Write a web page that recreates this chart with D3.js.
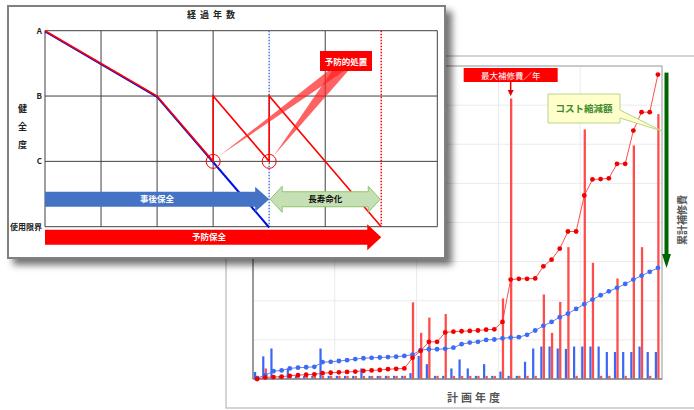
<!DOCTYPE html>
<html>
<head>
<meta charset="utf-8">
<script src="https://cdn.jsdelivr.net/npm/d3@7"></script>
<style>
body { margin:0; background:#fff; }
text { font-family: "Noto Sans CJK JP", "Noto Sans", sans-serif; }
</style>
</head>
<body>
<div id="vis"></div>
<script>
//global variables
let svgWidth = 694
let svgHeight = 410

// 計画年度 (50 years)
let years = d3.range(1, 51)

// yearly repair cost: 事後保全 (blue) / 予防保全 (red)
let blueBars = [18, 58, 78, 8, 27, 8, 8, 8, 78, 8,
    8, 8, 8, 27, 8, 8, 8, 8, 8, 15,
    59, 38, 8, 8, 27, 50, 27, 8, 38, 8,
    19, 8, 8, 44, 78, 83, 83, 78, 77, 83,
    83, 83, 83, 69, 69, 69, 69, 83, 69, 69]
let redBars = [8, 27, 8, 8, 8, 8, 8, 8, 8, 8,
    8, 8, 8, 8, 8, 8, 8, 8, 8, 196,
    118, 157, 8, 166, 8, 8, 8, 8, 8, 8,
    206, 717, 8, 8, 8, 216, 118, 197, 337, 8,
    638, 297, 8, 8, 257, 8, 597, 337, 8, 677]

// cumulative cost (累計補修費)
let blueCum = [2, 10, 20, 22, 27, 29, 30, 31, 43, 44,
    46, 48, 51, 53, 54, 55, 56, 57, 59, 62,
    74, 76, 76, 77, 80, 89, 93, 95, 100, 101,
    104, 106, 107, 113, 124, 136, 146, 158, 167, 179,
    191, 203, 214, 224, 233, 243, 254, 264, 274, 284]
let redCum = [0, 4, 5, 6, 8, 10, 11, 12, 15, 16,
    17, 18, 19, 21, 22, 23, 25, 26, 27, 54,
    72, 95, 95, 119, 121, 122, 123, 124, 126, 127,
    146, 254, 256, 256, 257, 288, 305, 333, 377, 377,
    469, 510, 511, 513, 550, 550, 635, 682, 682, 778]

// inset diagram: 健全度 vs 経過年数
let healthLabels = ["使用限界", "C", "B", "A"]
let elapsedCols = d3.range(0, 8)
let afterLine = [[0, 3], [2, 2], [4, 0]]
let preventLine = [[0, 3], [2, 2], [3, 1], [3, 2], [4, 1], [4, 2], [6, 0]]
let treatPoints = [[3, 1], [4, 1]]

let svg = d3.select('#vis')
    .append('svg')
    .attr('width', svgWidth)
    .attr('height', svgHeight)

let defs = svg.append('defs')
defs.append('filter')
    .attr('id', 'shadow')
    .attr('x', '-5%').attr('y', '-5%')
    .attr('width', '115%').attr('height', '120%')
    .append('feDropShadow')
    .attr('dx', 6).attr('dy', 6)
    .attr('stdDeviation', 3.5)
    .attr('flood-color', '#000')
    .attr('flood-opacity', 0.55)

// ---------- background chart ----------
let plot = {left: 253, right: 662, top: 66, bottom: 379}

svg.append('rect')
    .attr('x', 226).attr('y', 56)
    .attr('width', 480).attr('height', 352)
    .attr('fill', '#fff')
    .attr('stroke', '#aaa')

let xScale = d3.scaleBand()
    .domain(years)
    .range([plot.left, plot.right])

let yBar = d3.scaleLinear()
    .domain([0, 800])
    .range([plot.bottom, plot.top])

let yCum = d3.scaleLinear()
    .domain([0, 800])
    .range([plot.bottom, plot.top])

let bw = xScale.bandwidth()

// gridlines
svg.append('g')
    .selectAll('line')
    .data(yBar.ticks(8))
    .join('line')
    .attr('x1', plot.left).attr('x2', plot.right)
    .attr('y1', d => yBar(d)).attr('y2', d => yBar(d))
    .attr('stroke', '#ebebeb')

let vGrid = years.filter((d, i) => i % 10 == 0).map(d => xScale(d)).concat([plot.right])
svg.append('g')
    .selectAll('line')
    .data(vGrid)
    .join('line')
    .attr('x1', d => d).attr('x2', d => d)
    .attr('y1', plot.top).attr('y2', plot.bottom)
    .attr('stroke', '#ebebeb')

// frame
svg.append('rect')
    .attr('x', plot.left).attr('y', plot.top)
    .attr('width', plot.right - plot.left).attr('height', plot.bottom - plot.top)
    .attr('fill', 'none')
    .attr('stroke', '#a0a0a0')

// bars
svg.append('g')
    .selectAll('rect')
    .data(years)
    .join('rect')
    .attr('x', (d, i) => xScale(d) + bw * 0.12)
    .attr('width', bw * 0.27)
    .attr('y', (d, i) => yBar(blueBars[i]))
    .attr('height', (d, i) => yBar(0) - yBar(blueBars[i]))
    .attr('fill', '#3a68f2')

svg.append('g')
    .selectAll('rect')
    .data(years)
    .join('rect')
    .attr('x', (d, i) => xScale(d) + bw * 0.42)
    .attr('width', bw * 0.28)
    .attr('y', (d, i) => yBar(redBars[i]))
    .attr('height', (d, i) => yBar(0) - yBar(redBars[i]))
    .attr('fill', '#ff4c4c')

// axis line
svg.append('line')
    .attr('x1', plot.left).attr('x2', plot.right)
    .attr('y1', plot.bottom).attr('y2', plot.bottom)
    .attr('stroke', '#888').attr('stroke-width', 1.5)
svg.append('line')
    .attr('x1', plot.left).attr('x2', plot.left)
    .attr('y1', plot.top).attr('y2', plot.bottom)
    .attr('stroke', '#888').attr('stroke-width', 1.5)

// cumulative lines
let cx = d => xScale(d) + bw / 2

let blueLine = d3.line()
    .x((d, i) => cx(years[i]))
    .y(d => yCum(d))

svg.append('path')
    .datum(blueCum)
    .attr('d', blueLine)
    .attr('fill', 'none')
    .attr('stroke', '#7a78dc')
    .attr('stroke-width', 1)

svg.append('g')
    .selectAll('circle')
    .data(blueCum)
    .join('circle')
    .attr('cx', (d, i) => cx(years[i]))
    .attr('cy', d => yCum(d))
    .attr('r', 2.4)
    .attr('fill', '#3b6cf6')

svg.append('path')
    .datum(redCum)
    .attr('d', blueLine)
    .attr('fill', 'none')
    .attr('stroke', '#ff3a3a')
    .attr('stroke-width', 0.9)

svg.append('g')
    .selectAll('circle')
    .data(redCum)
    .join('circle')
    .attr('cx', (d, i) => cx(years[i]))
    .attr('cy', d => yCum(d))
    .attr('r', 2.4)
    .attr('fill', '#f00000')

// x label
svg.append('text')
    .attr('x', 475).attr('y', 402)
    .attr('text-anchor', 'middle')
    .attr('font-size', 11)
    .attr('font-weight', 'bold')
    .attr('letter-spacing', 3)
    .attr('fill', '#555')
    .text('計画年度')

// 最大補修費／年 callout
let maxIdx = redBars.indexOf(d3.max(redBars))
let maxX = cx(years[maxIdx])
svg.append('rect')
    .attr('x', maxX - 47).attr('y', 68)
    .attr('width', 94).attr('height', 14)
    .attr('fill', '#ff0000')
svg.append('text')
    .attr('x', maxX).attr('y', 78.5)
    .attr('text-anchor', 'middle')
    .attr('font-size', 8.5)
    .attr('fill', '#fff')
    .text('最大補修費／年')
svg.append('line')
    .attr('x1', maxX).attr('x2', maxX)
    .attr('y1', 82).attr('y2', 91)
    .attr('stroke', '#e00000').attr('stroke-width', 1.5)
svg.append('path')
    .attr('d', `M${maxX - 3},90 L${maxX + 3},90 L${maxX},96 Z`)
    .attr('fill', '#e00000')

// コスト縮減額 callout
svg.append('path')
    .attr('d', 'M548,94 L620,94 L620,110 L662,131 L620,118 L620,123 L548,123 Z')
    .attr('fill', '#ffffcc')
    .attr('stroke', '#b8d48a')
    .attr('stroke-width', 1)
svg.append('text')
    .attr('x', 584).attr('y', 112)
    .attr('text-anchor', 'middle')
    .attr('font-size', 9.5)
    .attr('font-weight', 'bold')
    .attr('fill', '#3d8a2c')
    .text('コスト縮減額')

// green arrow: difference of cumulative costs
let gTop = yCum(redCum[49]) - 2
let gBot = yCum(blueCum[49])
svg.append('rect')
    .attr('x', 664.5).attr('y', gTop)
    .attr('width', 4).attr('height', gBot - 13 - gTop)
    .attr('fill', '#006400')
svg.append('path')
    .attr('d', `M662,${gBot - 14} L671,${gBot - 14} L666.5,${gBot} Z`)
    .attr('fill', '#006400')

svg.append('text')
    .attr('transform', 'translate(686,220) rotate(-90)')
    .attr('text-anchor', 'middle')
    .attr('font-size', 10)
    .attr('font-weight', 'bold')
    .attr('fill', '#555')
    .text('累計補修費')

// ---------- inset diagram ----------
let inset = svg.append('g')

inset.append('rect')
    .attr('x', 8).attr('y', 6)
    .attr('width', 437).attr('height', 252)
    .attr('fill', '#fff')
    .attr('stroke', '#808080')
    .attr('stroke-width', 2)
    .attr('filter', 'url(#shadow)')

let ix = d3.scaleLinear().domain([0, 7]).range([45, 437.3])
let iy = d3.scaleLinear().domain([0, 3]).range([226.7, 30.7])

// grid
inset.append('g')
    .selectAll('line')
    .data(elapsedCols.filter(d => d != 4 && d != 6))
    .join('line')
    .attr('x1', d => ix(d)).attr('x2', d => ix(d))
    .attr('y1', iy(3)).attr('y2', iy(0))
    .attr('stroke', '#404040').attr('stroke-width', 1)

inset.append('g')
    .selectAll('line')
    .data(d3.range(0, 4))
    .join('line')
    .attr('x1', ix(0)).attr('x2', ix(7))
    .attr('y1', d => iy(d)).attr('y2', d => iy(d))
    .attr('stroke', '#404040').attr('stroke-width', 1)

// dotted limits
inset.append('line')
    .attr('x1', ix(4)).attr('x2', ix(4))
    .attr('y1', iy(3)).attr('y2', iy(0))
    .attr('stroke', '#4a78d8').attr('stroke-width', 1.5)
    .attr('stroke-dasharray', '1.5,1.5')
inset.append('line')
    .attr('x1', ix(6)).attr('x2', ix(6))
    .attr('y1', iy(3)).attr('y2', iy(0))
    .attr('stroke', '#ff0000').attr('stroke-width', 1.5)
    .attr('stroke-dasharray', '1.5,1.5')

// labels
inset.append('g')
    .selectAll('text')
    .data(healthLabels)
    .join('text')
    .attr('x', 42)
    .attr('y', (d, i) => iy(i) + 3)
    .attr('text-anchor', 'end')
    .attr('font-size', 8)
    .attr('font-weight', 'bold')
    .attr('fill', '#222')
    .text(d => d)

inset.append('g')
    .selectAll('text')
    .data(['健', '全', '度'])
    .join('text')
    .attr('x', 22.5)
    .attr('y', (d, i) => 112 + i * 18)
    .attr('text-anchor', 'middle')
    .attr('font-size', 9)
    .attr('font-weight', 'bold')
    .attr('fill', '#222')
    .text(d => d)

inset.append('text')
    .attr('x', 213).attr('y', 18)
    .attr('text-anchor', 'middle')
    .attr('font-size', 9)
    .attr('font-weight', 'bold')
    .attr('letter-spacing', 4)
    .attr('fill', '#222')
    .text('経過年数')

// arrows
function arrowPath(x0, x1, yc, bodyH, headH, headW, both) {
    let b = bodyH / 2, h = headH / 2
    let p = `M${x1},${yc} L${x1 - headW},${yc - h} L${x1 - headW},${yc - b} `
    if (both) {
        p += `L${x0 + headW},${yc - b} L${x0 + headW},${yc - h} L${x0},${yc} L${x0 + headW},${yc + h} L${x0 + headW},${yc + b} `
    } else {
        p += `L${x0},${yc - b} L${x0},${yc + b} `
    }
    p += `L${x1 - headW},${yc + b} L${x1 - headW},${yc + h} Z`
    return p
}

let rowY = iy(0.42)

let afterLineGen = d3.line().x(d => ix(d[0])).y(d => iy(d[1]))

inset.append('path')
    .datum(afterLine)
    .attr('d', afterLineGen)
    .attr('transform', 'translate(0,0.8)')
    .attr('fill', 'none')
    .attr('stroke', '#0010e0')
    .attr('stroke-width', 2)

inset.append('path')
    .datum(preventLine)
    .attr('d', afterLineGen)
    .attr('fill', 'none')
    .attr('stroke', '#ff0000')
    .attr('stroke-width', 1.6)

inset.append('path')
    .attr('d', arrowPath(ix(0), ix(4), rowY, 15, 25, 14, false))
    .attr('fill', '#4472c4')
inset.append('text')
    .attr('x', (ix(0) + ix(4)) / 2).attr('y', rowY + 3)
    .attr('text-anchor', 'middle')
    .attr('font-size', 8.5).attr('font-weight', 'bold')
    .attr('fill', '#fff')
    .text('事後保全')

inset.append('path')
    .attr('d', arrowPath(ix(4) + 1, ix(6) - 1, rowY, 15, 26, 12, true))
    .attr('fill', '#c5e0b4')
    .attr('stroke', '#8fc36b')
    .attr('stroke-width', 1)
inset.append('text')
    .attr('x', (ix(4) + ix(6)) / 2).attr('y', rowY + 3)
    .attr('text-anchor', 'middle')
    .attr('font-size', 8.5).attr('font-weight', 'bold')
    .attr('fill', '#111')
    .text('長寿命化')

let redRowY = iy(-0.16)
inset.append('path')
    .attr('d', arrowPath(ix(0), ix(6), redRowY, 15, 26, 14, false))
    .attr('fill', '#ff0000')
inset.append('text')
    .attr('x', 209).attr('y', redRowY + 3)
    .attr('text-anchor', 'middle')
    .attr('font-size', 8.5).attr('font-weight', 'bold')
    .attr('fill', '#fff')
    .text('予防保全')

// 予防的処置 callout
let boxX = 320, boxY = 51
inset.append('g')
    .selectAll('path')
    .data(treatPoints)
    .join('path')
    .attr('d', (d, i) => {
        let tx = ix(d[0]) + (i == 0 ? 7 : 5)
        let ty = iy(d[1]) - 6
        return i == 0
            ? `M${boxX + 8},${boxY + 20} L${boxX + 24},${boxY + 20} L${tx},${ty} Z`
            : `M${boxX + 12},${boxY + 20} L${boxX + 28},${boxY + 20} L${tx},${ty} Z`
    })
    .attr('fill', '#ff2020')
    .attr('opacity', 0.7)

inset.append('g')
    .selectAll('circle')
    .data(treatPoints)
    .join('circle')
    .attr('cx', d => ix(d[0]))
    .attr('cy', d => iy(d[1]))
    .attr('r', 7)
    .attr('fill', 'none')
    .attr('stroke', '#ff0000')
    .attr('stroke-width', 1)

inset.append('rect')
    .attr('x', boxX).attr('y', boxY)
    .attr('width', 52).attr('height', 20)
    .attr('fill', '#ff0000')
inset.append('text')
    .attr('x', boxX + 26).attr('y', boxY + 13.5)
    .attr('text-anchor', 'middle')
    .attr('font-size', 8.5).attr('font-weight', 'bold')
    .attr('fill', '#fff')
    .text('予防的処置')
</script>
</body>
</html>
